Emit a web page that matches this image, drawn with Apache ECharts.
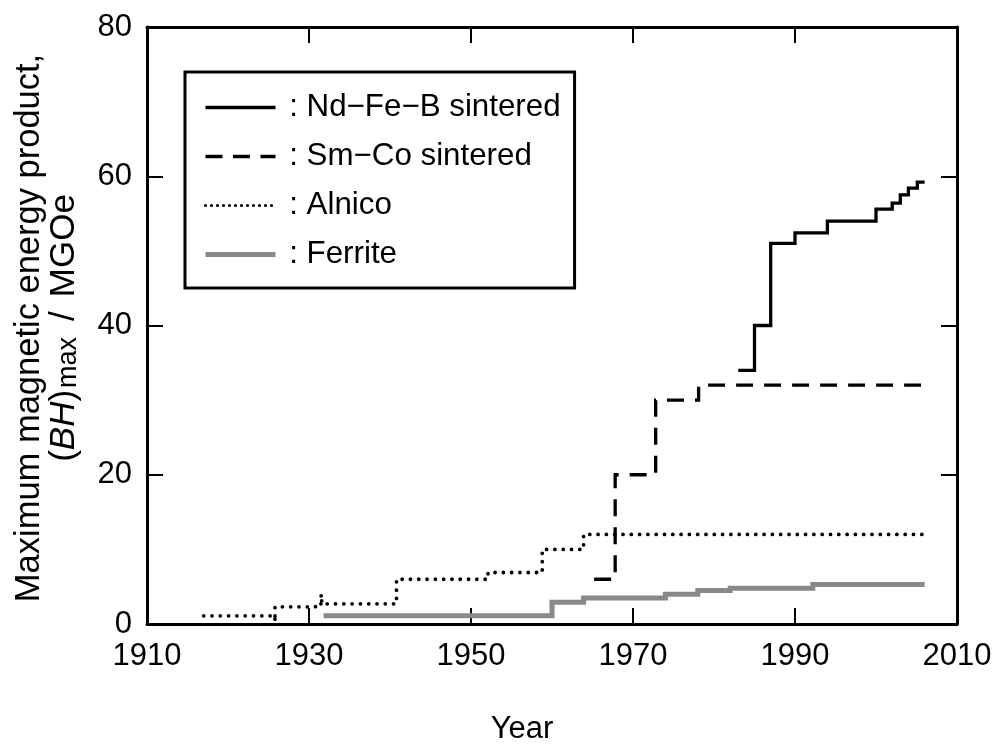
<!DOCTYPE html>
<html>
<head>
<meta charset="utf-8">
<script src="https://cdn.jsdelivr.net/npm/echarts@6/dist/echarts.min.js"></script>
<style>
html,body{margin:0;padding:0;background:#fff;}
#chart{width:1001px;height:749px;}
</style>
</head>
<body>
<div id="chart"></div>
<script>
// ---- data ----
const xTickLabels = [1910, 1930, 1950, 1970, 1990, 2010];
const yTickLabels = [0, 20, 40, 60, 80];

const seriesNames = ['Nd\u2212Fe\u2212B sintered', 'Sm\u2212Co sintered', 'Alnico', 'Ferrite'];

// each point: value holds from that year until the next year listed
const ndfebYears  = [1983.0, 1985.0, 1987.0, 1990.0, 1994.0, 2000.0, 2002.0, 2003.0, 2004.0, 2005.1, 2006.0];
const ndfebValues = [34.0,   40.0,   51.0,   52.4,   54.0,   55.6,   56.4,   57.5,   58.4,   59.2,   59.2];

const smcoYears  = [1965.2, 1967.8, 1972.8, 1978.1, 2005.8];
const smcoValues = [6.0,    20.0,   30.0,   32.0,   32.0];

const alnicoYears  = [1917.0, 1925.8, 1925.8, 1930.8, 1931.5, 1931.6, 1940.8, 1952.1, 1958.8, 1963.9, 2006.0];
const alnicoValues = [1.1,    0.3,    2.3,    2.7,    4.0,    2.7,    6.0,    6.9,    10.0,   12.0,   12.0];

const ferriteYears  = [1931.8, 1960.0, 1963.9, 1974.0, 1978.0, 1982.0, 1992.2, 2006.0];
const ferriteValues = [1.1,    2.9,    3.5,    4.0,    4.5,    4.8,    5.3,    5.3];

// ---- chart ----
const FONT = '"Liberation Sans", Arial, Helvetica, sans-serif';
const zip = (xs, ys) => xs.map((x, i) => [x, ys[i]]);

const chart = echarts.init(document.getElementById('chart'), null, {renderer: 'canvas'});

const xBase = {
  type: 'value', min: xTickLabels[0], max: xTickLabels[xTickLabels.length - 1], interval: 20,
  axisLine: {show: true, onZero: false, lineStyle: {color: '#000', width: 3}},
  axisTick: {show: true, inside: true, length: 16, lineStyle: {color: '#000', width: 2}},
  splitLine: {show: false}
};
const yBase = {
  type: 'value', min: yTickLabels[0], max: yTickLabels[yTickLabels.length - 1], interval: 20,
  axisLine: {show: true, onZero: false, lineStyle: {color: '#000', width: 3}},
  axisTick: {show: true, inside: true, length: 16, lineStyle: {color: '#000', width: 2}},
  splitLine: {show: false}
};

const lineStyles = [
  {color: '#000', width: 3.3, type: 'solid', join: 'miter', cap: 'butt'},
  {color: '#000', width: 3.3, type: [17, 11], join: 'miter', cap: 'butt'},
  {color: '#000', width: 3.8, type: [0, 8.3], cap: 'round', join: 'round'},
  {color: '#898989', width: 5, type: 'solid', join: 'miter', cap: 'butt'}
];
const seriesData = [
  zip(ndfebYears, ndfebValues),
  zip(smcoYears, smcoValues),
  zip(alnicoYears, alnicoValues),
  zip(ferriteYears, ferriteValues)
];

const option = {
  animation: false,
  backgroundColor: '#fff',
  grid: {left: 147, right: 44, top: 27, bottom: 125, containLabel: false},
  xAxis: [
    Object.assign({}, xBase, {
      position: 'bottom',
      axisLabel: {show: true, fontSize: 31, color: '#000', fontFamily: FONT, margin: 17,
        formatter: v => xTickLabels.includes(v) ? String(v) : ''}
    }),
    Object.assign({}, xBase, {position: 'top', axisLabel: {show: false}})
  ],
  yAxis: [
    Object.assign({}, yBase, {
      position: 'left',
      axisLabel: {show: true, fontSize: 31, color: '#000', fontFamily: FONT, margin: 15,
        formatter: v => yTickLabels.includes(v) ? String(v) : ''}
    }),
    Object.assign({}, yBase, {position: 'right', axisLabel: {show: false}})
  ],
  legend: {
    orient: 'vertical', left: 185, top: 72,
    itemWidth: 70, itemHeight: 14, itemGap: 18,
    padding: [20, 14, 18, 18],
    borderColor: '#000', borderWidth: 3, backgroundColor: '#fff', borderRadius: 0,
    selectedMode: false,
    itemStyle: {opacity: 0, borderWidth: 0},
    textStyle: {fontSize: 31.3, color: '#000', fontFamily: FONT},
    formatter: name => ' : ' + name,
    data: [
      {name: seriesNames[0], itemStyle: {opacity: 0}, lineStyle: {width: 3.3, type: 'solid', opacity: 1}},
      {name: seriesNames[1], itemStyle: {opacity: 0}, lineStyle: {width: 3.3, type: [17, 10.5], opacity: 1}},
      {name: seriesNames[2], itemStyle: {opacity: 0}, lineStyle: {width: 3.2, type: [0, 6], cap: 'round', opacity: 1}},
      {name: seriesNames[3], itemStyle: {opacity: 0}, lineStyle: {width: 5, type: 'solid', opacity: 1}}
    ]
  },
  graphic: [
    {
      type: 'text', x: 47, y: 328, rotation: Math.PI / 2,
      style: {
        text: '{a|Maximum magnetic energy product,}\n{b|(}{bi|BH}{b|)}{s|max}{g|/}{b|MGOe}',
        align: 'center', verticalAlign: 'middle',
        textAlign: 'center', textVerticalAlign: 'middle',
        fill: '#000', fontFamily: FONT, fontSize: 34,
        rich: {
          a: {fontSize: 34.5, fontFamily: FONT, lineHeight: 35, fill: '#000', color: '#000'},
          b: {fontSize: 35, fontFamily: FONT, lineHeight: 35, fill: '#000', color: '#000'},
          g: {fontSize: 35, fontFamily: FONT, lineHeight: 35, padding: [0, 14, 0, 16], fill: '#000', color: '#000'},
          bi: {fontSize: 35, fontFamily: FONT, fontStyle: 'italic', lineHeight: 35, fill: '#000', color: '#000'},
          s: {fontSize: 27, fontFamily: FONT, lineHeight: 24, padding: [0, 0, 0, 2], verticalAlign: 'bottom', fill: '#000', color: '#000'}
        }
      }
    },
    {
      type: 'text', x: 522, y: 729,
      style: {
        text: 'Year', align: 'center', verticalAlign: 'middle',
        textAlign: 'center', textVerticalAlign: 'middle',
        fill: '#000', fontFamily: FONT, fontSize: 31
      }
    }
  ],
  series: seriesNames.map((name, i) => ({
    name: name, type: 'line', step: 'end', xAxisIndex: 0, yAxisIndex: 0,
    symbol: 'none', showSymbol: false, silent: true,
    lineStyle: lineStyles[i],
    itemStyle: {color: lineStyles[i].color},
    data: seriesData[i],
    z: 3 + i
  }))
};
chart.setOption(option);
</script>
</body>
</html>
